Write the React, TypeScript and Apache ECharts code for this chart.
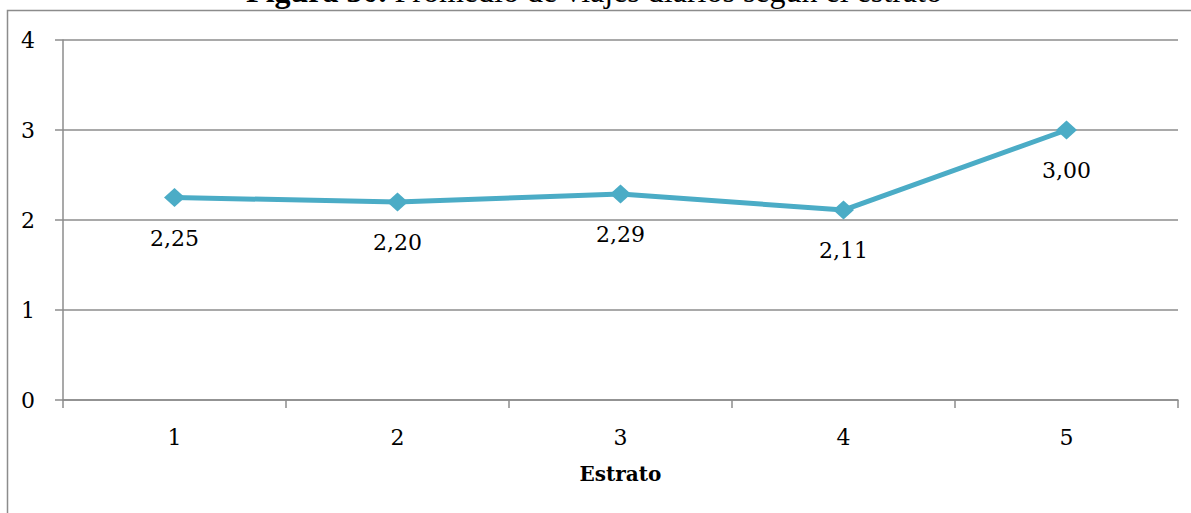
import React, { useEffect, useRef } from "react";
import * as echarts from "echarts";

const titleBold = "Figura 30.";
const titleRest = " Promedio de viajes diarios según el estrato";
const categories = ["1", "2", "3", "4", "5"];
const values = [2.25, 2.2, 2.29, 2.11, 3.0];
const axisName = "Estrato";

const SERIF = "DejaVu Serif";

export default function App() {
  const ref = useRef<HTMLDivElement>(null);
  useEffect(() => {
    if (!ref.current) return;
    const chart = echarts.init(ref.current, undefined, { renderer: "svg" });
    chart.setOption({
      animation: false,
      backgroundColor: "#ffffff",
      grid: { left: 63, right: 13, top: 40, bottom: 113 },
      graphic: [
        {
          type: "rect",
          shape: { x: 7.5, y: 10.5, width: 1200, height: 520 },
          style: { fill: "none", stroke: "#8c8c8c", lineWidth: 1.5 },
          silent: true,
        },
        {
          type: "text",
          x: 594,
          y: 7,
          style: {
            text: "{b|" + titleBold + "}{n|" + titleRest + "}",
            align: "center",
            verticalAlign: "bottom",
            rich: {
              b: { fontFamily: "Liberation Serif", fontWeight: "bold", fontSize: 32, fill: "#000" },
              n: { fontFamily: "Liberation Serif", fontSize: 32, fill: "#000" },
            },
          },
        },
      ],
      xAxis: {
        type: "category",
        data: categories,
        boundaryGap: true,
        axisLine: { lineStyle: { color: "#8c8c8c", width: 1.5 } },
        axisTick: { show: true, length: 8, lineStyle: { color: "#8c8c8c", width: 1.5 } },
        axisLabel: { color: "#000", fontFamily: SERIF, fontSize: 22, margin: 26 },
        name: axisName,
        nameLocation: "middle",
        nameGap: 64,
        nameTextStyle: { color: "#000", fontFamily: SERIF, fontSize: 20, fontWeight: "bold" },
      },
      yAxis: {
        type: "value",
        min: 0,
        max: 4,
        interval: 1,
        axisLine: { show: true, lineStyle: { color: "#8c8c8c", width: 1.5 } },
        axisTick: { show: true, length: 8, lineStyle: { color: "#8c8c8c", width: 1.5 } },
        axisLabel: { color: "#000", fontFamily: SERIF, fontSize: 22, margin: 28 },
        splitLine: { show: true, lineStyle: { color: "#8c8c8c", width: 1.5 } },
      },
      series: [
        {
          type: "line",
          data: values,
          symbol: "diamond",
          symbolSize: [21, 19],
          itemStyle: { color: "#4BACC6" },
          lineStyle: { color: "#4BACC6", width: 5 },
          label: {
            show: true,
            position: "bottom",
            distance: 20,
            color: "#000",
            fontFamily: SERIF,
            fontSize: 22,
            formatter: (p: any) => p.value.toFixed(2).replace(".", ","),
          },
        },
      ],
    });
    return () => chart.dispose();
  }, []);
  return (
    <div
      ref={ref}
      style={{ position: "fixed", left: 0, top: 0, width: 1191, height: 513 }}
    />
  );
}
